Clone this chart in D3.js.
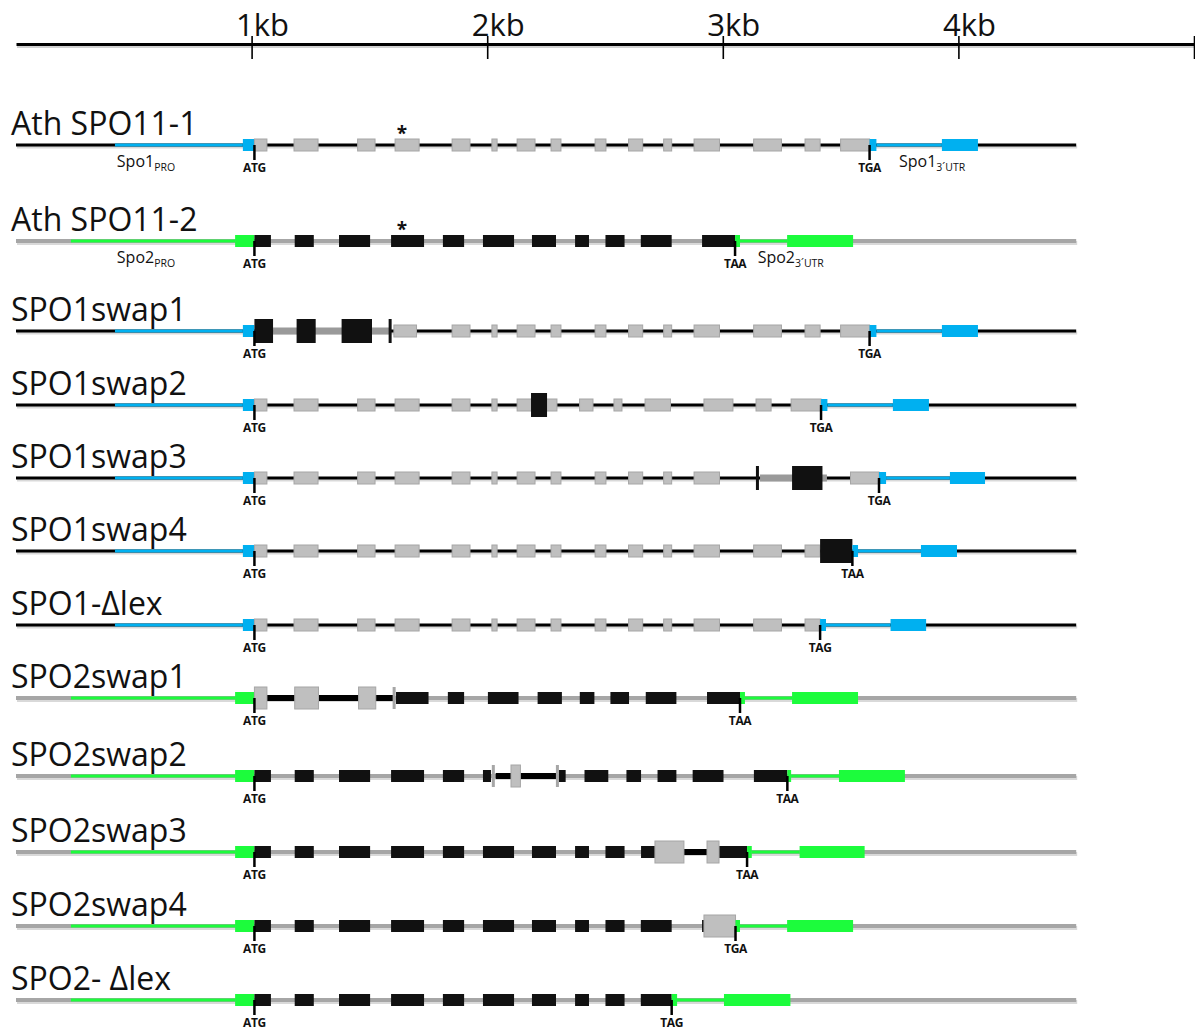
<!DOCTYPE html>
<html>
<head>
<meta charset="utf-8">
<script src="https://d3js.org/d3.v7.min.js"></script>
<style>
  body { margin: 0; background: #fff; }
  text { font-family: "Open Sans", "Noto Sans", sans-serif; fill: #111; }
</style>
</head>
<body>
<script>

  // all positions in bp from the start of the drawn region
  var rowLabels = ["Ath SPO11-1", "Ath SPO11-2", "SPO1swap1", "SPO1swap2", "SPO1swap3", "SPO1swap4",
                   "SPO1-\u0394lex", "SPO2swap1", "SPO2swap2", "SPO2swap3", "SPO2swap4", "SPO2- \u0394lex"];
  var rowGene = [1, 2, 1, 1, 1, 1, 1, 2, 2, 2, 2, 2];

  var tickVals = [1000, 2000, 3000, 4000, 5000];
  var tickLabels = ["1kb", "2kb", "3kb", "4kb", ""];

  var geneEnd = 4500;
  var atg = 1012;
  var spo1Promoter = [420, 963];
  var spo2Promoter = [233, 930];
  var starPos = 1638;
  var proLabelPos = 428;
  var utrLabelPos = [3748, 3148];

  var spo1Exons = [[1012,1065],[1180,1282],[1450,1524],[1609,1711],[1851,1927],[2020,2042],[2127,2203],
                   [2271,2313],[2458,2504],[2600,2660],[2749,2783],[2878,2986],[3131,3249],[3349,3413],[3500,3623]];
  var spo2Exons = [[1012,1082],[1183,1264],[1371,1503],[1592,1732],[1812,1902],[1982,2114],[2190,2292],
                   [2373,2432],[2502,2583],[2652,2783],[2912,3052]];

  // exons of the row's own gene
  var ownExons = [
    spo1Exons,
    spo2Exons,
    [[1604,1700]].concat(spo1Exons.slice(4)),
    spo1Exons.slice(0, 6).concat([[2127,2296],[2392,2449],[2538,2572],[2670,2778],[2920,3043],[3141,3205],[3290,3417]]),
    spo1Exons.slice(0, 12).concat([[3542,3663]]),
    spo1Exons.slice(0, 14),
    spo1Exons.slice(0, 14),
    [[1613,1751],[1833,1902],[2003,2133],[2214,2317],[2393,2455],[2523,2602],[2673,2803],[2933,3073]],
    spo2Exons.slice(0, 5).concat([[1982,2016],[2304,2333],[2413,2514],[2591,2653],[2723,2803],[2872,3003],[3132,3274]]),
    spo2Exons.slice(0, 9).concat([[2653,2712],[2984,3103]]),
    spo2Exons.slice(0, 10).concat([[2912,2925]]),
    spo2Exons.slice(0, 10)
  ];

  // swapped-in exons / introns from the other paralog, and junction marks
  var swapExons = [[], [], [[1012,1091],[1191,1272],[1382,1511]], [[2186,2254]], [[3294,3423]], [[3413,3550]], [],
                   [[1012,1065],[1183,1284],[1454,1527]], [[2101,2141]], [[2712,2835],[2933,2984]], [[2920,3054]], []];
  var swapIntrons = [[], [], [[1091,1588]], [], [[3158,3442]], [], [],
                     [[1065,1605]], [[2036,2292]], [[2835,2933]], [], []];
  var junctions = [[], [], [1588], [], [3147], [], [], [1605], [2026, 2298], [], [], []];

  var stopCodons = ["TGA", "TAA", "TGA", "TGA", "TGA", "TAA", "TAG", "TAA", "TAA", "TAA", "TGA", "TAG"];
  var stopPos = [3623, 3052, 3623, 3417, 3663, 3550, 3413, 3073, 3274, 3103, 3054, 2783];
  var utr3Line = [3652, 3073, 3652, 3444, 3693, 3574, 3438, 3094, 3290, 3123, 3073, 2806];
  var utr3Box = [[3930,4083],[3273,3553],[3930,4083],[3722,3875],[3964,4113],[3841,3994],
                 [3712,3863],[3294,3574],[3493,3773],[3326,3602],[3273,3553],[3005,3287]];

  // layout
  var w = 1195, h = 1030;
  var rowY = [145, 241, 331, 405, 478, 551, 625, 698, 776, 852, 926, 1000];

  var style = {
    1: { intron: "#000", intronW: 3, exon: "#bfbfbf", exonStroke: "#a6a6a6", utr: "#00b0f0",
         swap: "#111", swapStroke: "none", swapH: 24, swapIntron: "#9a9a9a", swapIntronW: 7, bar: "#111" },
    2: { intron: "#a6a6a6", intronW: 4, exon: "#111", exonStroke: "none", utr: "#1cfc3c",
         swap: "#bfbfbf", swapStroke: "#a6a6a6", swapH: 22, swapIntron: "#000", swapIntronW: 6, bar: "#a6a6a6" }
  };

  var svg = d3.select("body").append("svg").attr("width", w).attr("height", h);

  var x = d3.scaleLinear().domain([0, 5000]).range([16, 1194]);
  var y = d3.scaleOrdinal().domain(d3.range(rowLabels.length)).range(rowY);

  // scale bar
  var axis = d3.axisBottom(x).tickValues(tickVals).tickSize(15).tickSizeOuter(0)
      .tickFormat(function(d, i) { return tickLabels[i]; });
  var ag = svg.append("g").attr("transform", "translate(0,44)").call(axis)
      .attr("font-family", null).attr("font-size", null);
  ag.insert("line", ":first-child")
      .attr("x1", x(0) + 1).attr("x2", x(5000)).attr("y1", 2.5).attr("y2", 2.5)
      .attr("stroke", "#000").attr("stroke-opacity", 0.18).attr("stroke-width", 3);
  ag.select(".domain").attr("stroke-width", 3);
  ag.selectAll(".tick line").attr("y1", -8).attr("stroke-width", 1.6);
  ag.selectAll(".tick text").attr("y", -8).attr("dy", 0).attr("dx", -16)
      .attr("text-anchor", "start").style("font-size", "31px").attr("fill", "#111");

  function hline(g, a, b, color, width, shadow) {
    if (shadow) {
      g.append("line").attr("x1", x(a) + 1).attr("x2", x(b) + 1).attr("y1", 2).attr("y2", 2)
        .attr("stroke", "#000").attr("stroke-opacity", 0.15).attr("stroke-width", width);
    }
    g.append("line").attr("x1", x(a)).attr("x2", x(b)).attr("y1", 0).attr("y2", 0)
      .attr("stroke", color).attr("stroke-width", width);
  }

  function box(g, a, b, hh, fill, stroke) {
    g.append("rect").attr("x", x(a)).attr("y", -hh / 2)
      .attr("width", x(b) - x(a)).attr("height", hh)
      .attr("fill", fill).attr("stroke", stroke).attr("stroke-width", 1);
  }

  rowLabels.forEach(function(label, i) {
    var s = style[rowGene[i]];
    var prom = rowGene[i] == 1 ? spo1Promoter : spo2Promoter;
    var g = svg.append("g").attr("transform", "translate(0," + y(i) + ")");

    g.append("text").attr("x", 11).attr("y", -10).style("font-size", "32px").text(label);

    hline(g, 0, geneEnd, s.intron, s.intronW, true);
    hline(g, prom[0], prom[1], s.utr, 3, false);
    hline(g, utr3Line[i], utr3Box[i][0], s.utr, 3, false);

    swapIntrons[i].forEach(function(d) { hline(g, d[0], d[1], s.swapIntron, s.swapIntronW, false); });

    box(g, prom[1], atg, 12, s.utr, "none");
    ownExons[i].forEach(function(d) { box(g, d[0], d[1], 12, s.exon, s.exonStroke); });
    swapExons[i].forEach(function(d) { box(g, d[0], d[1], s.swapH, s.swap, s.swapStroke); });
    junctions[i].forEach(function(d) {
      g.append("rect").attr("x", x(d) - 1.5).attr("y", -s.swapH / 2).attr("width", 3).attr("height", s.swapH)
        .attr("fill", s.bar);
    });

    box(g, stopPos[i], utr3Line[i], 12, s.utr, "none");
    box(g, utr3Box[i][0], utr3Box[i][1], 12, s.utr, "none");

    // start / stop codon marks
    [[atg, "ATG"], [stopPos[i], stopCodons[i]]].forEach(function(c) {
      g.append("line").attr("x1", x(c[0])).attr("x2", x(c[0])).attr("y1", 0).attr("y2", 15)
        .attr("stroke", "#000").attr("stroke-width", 2.5);
      g.append("text").attr("x", x(c[0])).attr("y", 27).attr("text-anchor", "middle")
        .style("font-size", "12px").style("font-weight", "bold").style("letter-spacing", "-0.4px")
        .text(c[1]);
    });

    if (i < 2) {
      g.append("text").attr("x", x(starPos)).attr("y", -5).attr("text-anchor", "middle")
        .style("font-size", "19px").style("font-weight", "bold").text("*");

      var p = g.append("text").attr("x", x(proLabelPos)).attr("y", 22);
      p.append("tspan").style("font-size", "16px").text("Spo" + rowGene[i]);
      p.append("tspan").attr("dy", 4).style("font-size", "10.5px").text("PRO");

      var u = g.append("text").attr("x", x(utrLabelPos[i])).attr("y", 22);
      u.append("tspan").style("font-size", "16px").text("Spo" + rowGene[i]);
      u.append("tspan").attr("dy", 4).style("font-size", "10.5px").text("3\u00b4UTR");
    }
  });

</script>
</body>
</html>
